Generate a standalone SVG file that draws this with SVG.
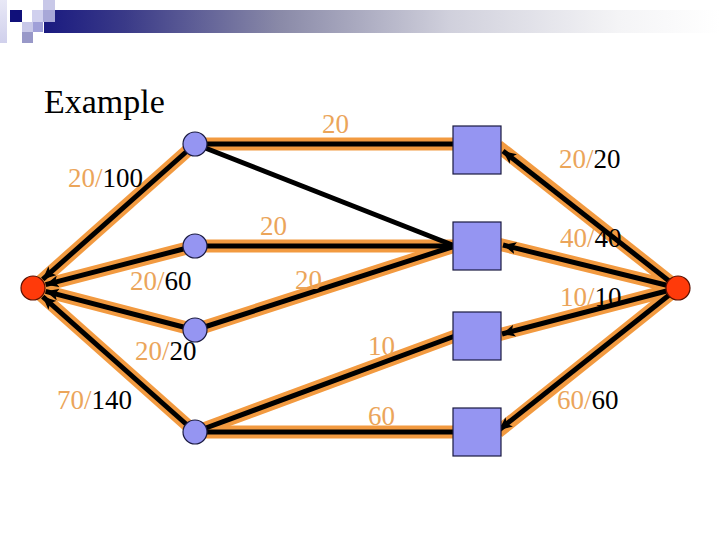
<svg xmlns="http://www.w3.org/2000/svg" width="720" height="540" viewBox="0 0 720 540">
<defs>
<linearGradient id="bar" x1="0" y1="0" x2="1" y2="0">
<stop offset="0" stop-color="#1a1a80"/>
<stop offset="0.12" stop-color="#3a3a88"/>
<stop offset="0.35" stop-color="#8a8aa8"/>
<stop offset="0.6" stop-color="#d0d0dc"/>
<stop offset="0.85" stop-color="#f4f4f6"/>
<stop offset="1" stop-color="#ffffff"/>
</linearGradient>
<linearGradient id="strip" x1="0" y1="0" x2="0" y2="1">
<stop offset="0" stop-color="#e8e8f6"/>
<stop offset="1" stop-color="#d0d0ec"/>
</linearGradient>
<marker id="ah" markerUnits="userSpaceOnUse" markerWidth="14" markerHeight="12" refX="13" refY="6" orient="auto">
<path d="M0,0 L13,6 L0,12 L3,6 Z" fill="#000"/>
</marker>
<style>
.o{stroke:#f29a40;stroke-width:13;fill:none}
.b{stroke:#000;stroke-width:5;fill:none}
.ba{stroke:#000;stroke-width:5;fill:none;marker-end:url(#ah)}
.ci{fill:#9595f2;stroke:#1a1a40;stroke-width:1.2}
.sq{fill:#9595f2;stroke:#1a1a40;stroke-width:1.2}
.red{fill:#ff3a0a;stroke:#5a1000;stroke-width:1.2}
text{font-family:"Liberation Serif","Times New Roman",serif;font-size:27px}
.lo{fill:#eba55a}
.lk{fill:#000}
</style>
</defs>
<rect width="720" height="540" fill="#fff"/>
<g id="header">
<rect x="44" y="10" width="676" height="23" fill="url(#bar)"/>
<rect x="0" y="0" width="7" height="43" fill="url(#strip)"/>
<rect x="10" y="10" width="12" height="12" fill="#10107a"/>
<rect x="43" y="0" width="12" height="10" fill="#c8c8e8"/>
<rect x="32" y="10" width="11" height="12" fill="#d0d0ee"/>
<rect x="43" y="10" width="12" height="12" fill="#a8a8d8"/>
<rect x="22" y="22" width="11" height="10" fill="#c8c8e8"/>
<rect x="33" y="22" width="10" height="10" fill="#a0a0d8"/>
<rect x="22" y="32" width="11" height="11" fill="#9898c8"/>
</g>
<g id="connectors">
<line class="o" x1="195" y1="144" x2="33" y2="288"/>
<line class="o" x1="195" y1="246" x2="33" y2="288"/>
<line class="o" x1="195" y1="330" x2="33" y2="288"/>
<line class="o" x1="195" y1="432" x2="33" y2="288"/>
<line class="o" x1="195" y1="144" x2="477" y2="144"/>
<line class="o" x1="195" y1="246" x2="477" y2="246"/>
<line class="o" x1="195" y1="330" x2="455" y2="246"/>
<line class="o" x1="195" y1="432" x2="455" y2="336"/>
<line class="o" x1="195" y1="432" x2="477" y2="432"/>
<line class="o" x1="678" y1="288" x2="498" y2="146"/>
<line class="o" x1="678" y1="288" x2="498" y2="244"/>
<line class="o" x1="678" y1="288" x2="498" y2="335"/>
<line class="o" x1="678" y1="288" x2="498" y2="432"/>
<line class="ba" x1="195" y1="144" x2="42.7" y2="279.4"/>
<line class="ba" x1="195" y1="246" x2="45.6" y2="284.7"/>
<line class="ba" x1="195" y1="330" x2="45.6" y2="291.3"/>
<line class="ba" x1="195" y1="432" x2="42.7" y2="296.6"/>
<line class="b" x1="195" y1="144" x2="477" y2="144"/>
<line class="b" x1="195" y1="144" x2="455" y2="246"/>
<line class="b" x1="195" y1="246" x2="477" y2="246"/>
<line class="b" x1="195" y1="330" x2="455" y2="246"/>
<line class="b" x1="195" y1="432" x2="455" y2="336"/>
<line class="b" x1="195" y1="432" x2="477" y2="432"/>
<line class="ba" x1="678" y1="288" x2="503" y2="151"/>
<line class="ba" x1="678" y1="288" x2="503" y2="245"/>
<line class="ba" x1="678" y1="288" x2="502" y2="334"/>
<line class="ba" x1="678" y1="288" x2="499" y2="430"/>
</g>
<g id="source"><circle class="red" cx="33" cy="288" r="12"/></g>
<g id="sink"><circle class="red" cx="678" cy="288" r="12"/></g>
<g id="a"><circle class="ci" cx="195" cy="144" r="12"/></g>
<g id="b"><circle class="ci" cx="195" cy="246" r="12"/></g>
<g id="c"><circle class="ci" cx="195" cy="330" r="12"/></g>
<g id="d"><circle class="ci" cx="195" cy="432" r="12"/></g>
<g id="s1"><rect class="sq" x="453" y="126" width="48" height="48"/></g>
<g id="s2"><rect class="sq" x="453" y="222" width="48" height="48"/></g>
<g id="s3"><rect class="sq" x="453" y="312" width="48" height="48"/></g>
<g id="s4"><rect class="sq" x="453" y="408" width="48" height="48"/></g>
<g id="labels">
<text x="44" y="113" style="font-size:34px" class="lk">Example</text>
<text x="322" y="133" class="lo">20</text>
<text x="559" y="168"><tspan class="lo">20/</tspan><tspan class="lk">20</tspan></text>
<text x="68" y="187"><tspan class="lo">20/</tspan><tspan class="lk">100</tspan></text>
<text x="260" y="235" class="lo">20</text>
<text x="560" y="247"><tspan class="lo">40/</tspan><tspan class="lk">40</tspan></text>
<text x="130" y="290"><tspan class="lo">20/</tspan><tspan class="lk">60</tspan></text>
<text x="295" y="289" class="lo">20</text>
<text x="560" y="306"><tspan class="lo">10/</tspan><tspan class="lk">10</tspan></text>
<text x="135" y="360"><tspan class="lo">20/</tspan><tspan class="lk">20</tspan></text>
<text x="368" y="355" class="lo">10</text>
<text x="57" y="409"><tspan class="lo">70/</tspan><tspan class="lk">140</tspan></text>
<text x="368" y="425" class="lo">60</text>
<text x="557" y="409"><tspan class="lo">60/</tspan><tspan class="lk">60</tspan></text>
</g>
</svg>
